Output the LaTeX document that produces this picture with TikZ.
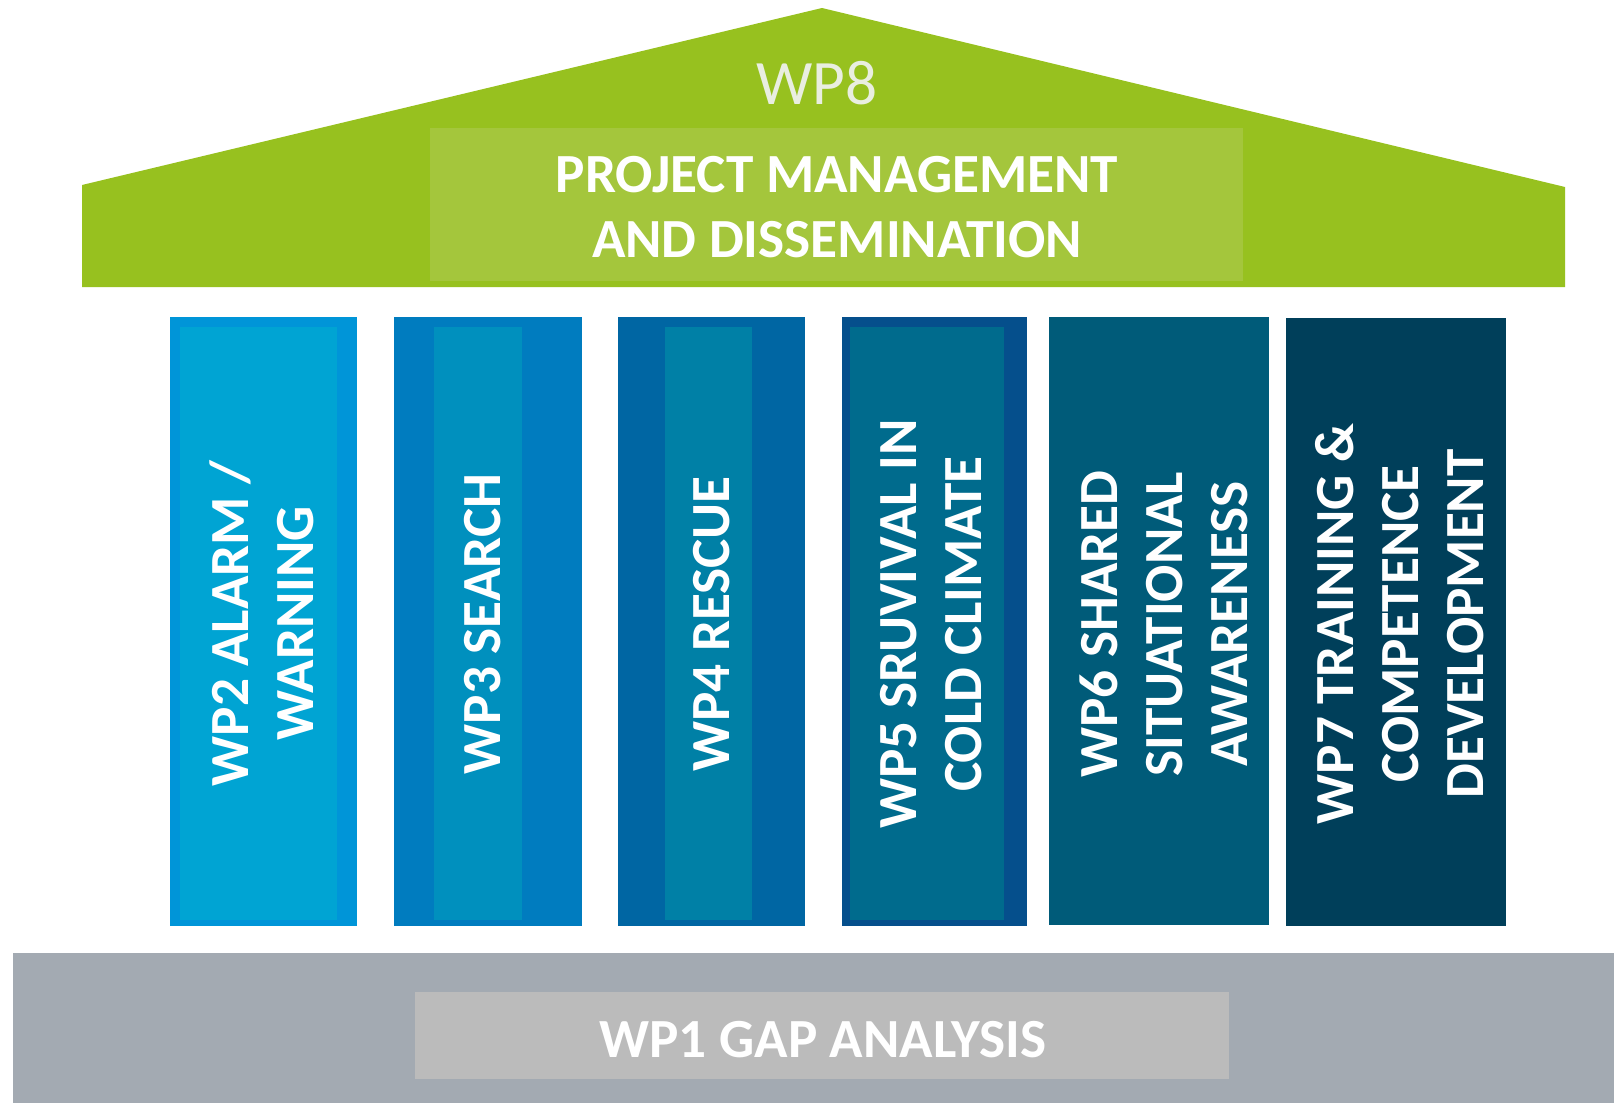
\documentclass[tikz,border=0pt]{standalone}
\usepackage{fontspec}
\setmainfont{Carlito}
\definecolor{roof green}{HTML}{97C11F}
\definecolor{roof inner}{HTML}{A4C63C}
\definecolor{wp8 grey}{HTML}{E9EEE0}
\definecolor{wp2 outer}{HTML}{0095D8}
\definecolor{wp2 inner}{HTML}{00A4D3}
\definecolor{wp3 outer}{HTML}{007CBF}
\definecolor{wp3 inner}{HTML}{0090BE}
\definecolor{wp4 outer}{HTML}{0066A3}
\definecolor{wp4 inner}{HTML}{0080A6}
\definecolor{wp5 outer}{HTML}{054F8C}
\definecolor{wp5 inner}{HTML}{006B8D}
\definecolor{wp6 fill}{HTML}{005B79}
\definecolor{wp7 fill}{HTML}{003F5A}
\definecolor{base grey}{HTML}{A3AAB2}
\definecolor{base inner}{HTML}{BBBBBB}
\begin{document}
\begin{tikzpicture}[x=0.01cm, y=-0.01cm]% pixels, y downwards
            \tikzstyle{label} = [text=white, font=\bfseries\fontsize{15.7}{18.5}\selectfont, align=center, inner sep=0pt]
            \tikzstyle{pillar text} = [label, rotate=90]
            \tikzstyle{my color} = [fill={#1}]
            \useasboundingbox (0, 0) rectangle (1614, 1103);
            \fill[white] (0, 0) rectangle (1614, 1103);
            % roof
            \fill[my color=roof green] (82, 287) -- (82, 185) -- (822, 8) -- (1565, 187) -- (1565, 287) -- cycle;
            \fill[my color=roof inner] (430, 128) rectangle (1243, 281);
            \node[text=wp8 grey, font=\fontsize{18}{20}\selectfont, inner sep=0pt] (wp8) at (817, 83.5) {WP8};
            \node[label] (wp8 title) at (837, 207) {PROJECT MANAGEMENT\\AND DISSEMINATION};
            % pillars
            \fill[my color=wp2 outer] (170, 317) rectangle (357, 926);
            \fill[my color=wp2 inner] (180, 327) rectangle (337, 920);
            \node[pillar text] (wp2) at (262, 623.5) {WP2 ALARM /\\WARNING};
            \fill[my color=wp3 outer] (394, 317) rectangle (582, 926);
            \fill[my color=wp3 inner] (434, 327) rectangle (522, 920);
            \node[pillar text] (wp3) at (482.5, 624) {WP3 SEARCH};
            \fill[my color=wp4 outer] (618, 317) rectangle (805, 926);
            \fill[my color=wp4 inner] (665, 327) rectangle (752, 920);
            \node[pillar text] (wp4) at (712, 624) {WP4 RESCUE};
            \fill[my color=wp5 outer] (842, 317) rectangle (1027, 926);
            \fill[my color=wp5 inner] (850, 327) rectangle (1004, 920);
            \node[pillar text] (wp5) at (931, 624) {WP5 SRUVIVAL IN\\COLD CLIMATE};
            \fill[my color=wp6 fill] (1049, 317) rectangle (1269, 925);
            \node[pillar text] (wp6) at (1164, 624) {WP6 SHARED\\SITUATIONAL\\AWARENESS};
            \fill[my color=wp7 fill] (1286, 318) rectangle (1506, 926);
            \node[pillar text] (wp7) at (1400, 624) {WP7 TRAINING \&\\COMPETENCE\\DEVELOPMENT};
            % base
            \fill[my color=base grey] (13, 953) rectangle (1614, 1103);
            \fill[my color=base inner] (415, 992) rectangle (1229, 1079);
            \node[label] (wp1) at (823, 1040) {WP1 GAP ANALYSIS};
        \end{tikzpicture}
\end{document}
